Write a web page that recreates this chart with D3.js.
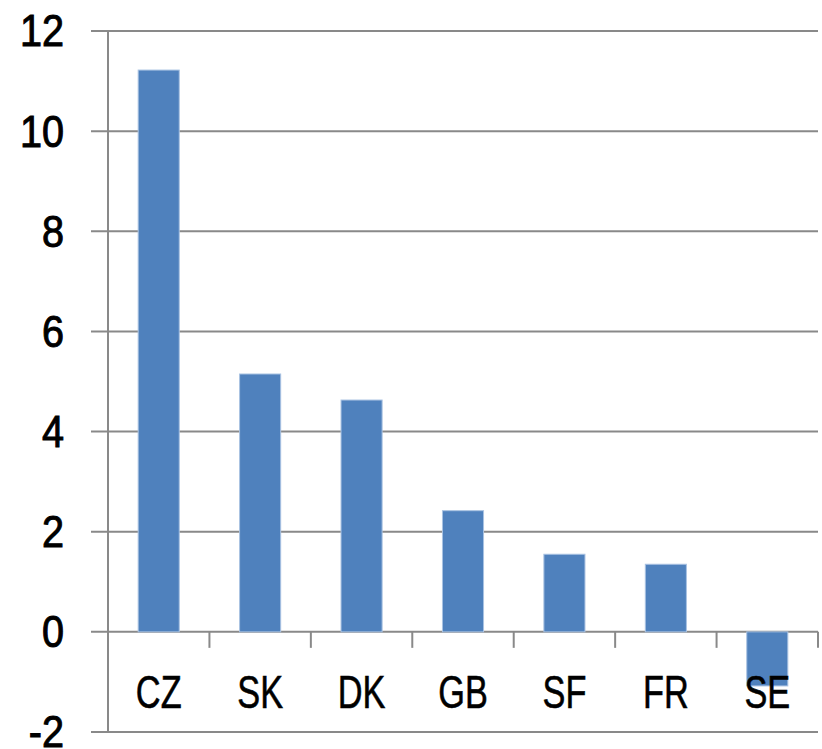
<!DOCTYPE html>
<html>
<head>
<meta charset="utf-8">
<script src="https://cdn.jsdelivr.net/npm/d3@7"></script>
<style>
  body { margin: 0; background: #fff; }
  .tick-label { font-family: "Liberation Sans", Arial, sans-serif; fill: #000; }
</style>
</head>
<body>
<div id="chart"></div>
<script>
// 資料
const countries = ["CZ", "SK", "DK", "GB", "SF", "FR", "SE"];
const values = [11.22, 5.15, 4.63, 2.42, 1.55, 1.35, -1.08];
const yTicks = [-2, 0, 2, 4, 6, 8, 10, 12];

const margin = { top: 31, right: 4, bottom: 17, left: 108 },
  width = 822 - margin.left - margin.right,
  height = 749 - margin.top - margin.bottom;

const svg = d3
  .select("#chart")
  .append("svg")
  .attr("width", width + margin.left + margin.right)
  .attr("height", height + margin.top + margin.bottom)
  .append("g")
  .attr("transform", `translate(${margin.left},${margin.top})`);

const x = d3.scaleBand().domain(countries).range([0, width]);
const y = d3.scaleLinear().domain([-2, 12]).range([height, 0]);

const grey = "#898989";

// 格線
svg
  .selectAll(".grid")
  .data(yTicks)
  .enter()
  .append("line")
  .attr("class", "grid")
  .attr("x1", -17)
  .attr("x2", width)
  .attr("y1", (d) => y(d))
  .attr("y2", (d) => y(d))
  .attr("stroke", grey)
  .attr("stroke-width", 2);

// y 軸線
svg
  .append("line")
  .attr("x1", 0)
  .attr("x2", 0)
  .attr("y1", y(12))
  .attr("y2", y(-2))
  .attr("stroke", grey)
  .attr("stroke-width", 2);

// x 軸刻度 (在 0 線上)
const catTicks = d3.range(1, countries.length + 1).map((i) => i * x.step());
svg
  .selectAll(".cat-tick")
  .data(catTicks)
  .enter()
  .append("line")
  .attr("x1", (d) => d)
  .attr("x2", (d) => d)
  .attr("y1", y(0))
  .attr("y2", y(0) + 16)
  .attr("stroke", grey)
  .attr("stroke-width", 2);

// 長條
const barW = x.bandwidth() * 0.405;
svg
  .selectAll(".bar")
  .data(values)
  .enter()
  .append("rect")
  .attr("class", "bar")
  .attr("x", (d, i) => x(countries[i]) + (x.bandwidth() - barW) / 2)
  .attr("width", barW)
  .attr("y", (d) => y(Math.max(0, d)))
  .attr("height", (d) => Math.abs(y(d) - y(0)))
  .attr("fill", "#4f81bd")
  .attr("stroke", "#a9c2e2")
  .attr("stroke-width", 1);

// y 標籤
svg
  .selectAll(".y-label")
  .data(yTicks)
  .enter()
  .append("text")
  .attr("class", "tick-label")
  .attr("transform", (d) => `translate(-44,${y(d)}) scale(0.9,1)`)
  .attr("dy", "0.35em")
  .attr("text-anchor", "end")
  .style("font-size", "44px")
  .style("stroke", "#000")
  .style("stroke-width", 1)
  .text((d) => d);

// x 標籤
svg
  .selectAll(".x-label")
  .data(countries)
  .enter()
  .append("text")
  .attr("class", "tick-label")
  .attr("transform", (d) => `translate(${x(d) + x.bandwidth() / 2},${y(0) + 76}) scale(0.73,1)`)
  .attr("text-anchor", "middle")
  .style("font-size", "47px")
  .style("stroke", "#000")
  .style("stroke-width", 0.6)
  .text((d) => d);
</script>
</body>
</html>
